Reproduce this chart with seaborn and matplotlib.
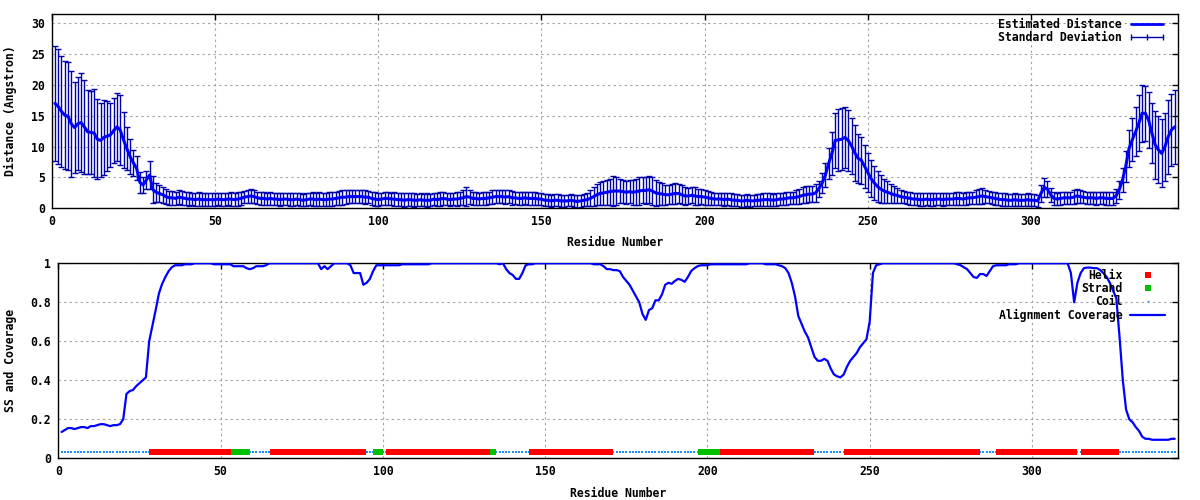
import numpy as np
import pandas as pd
import seaborn as sns
import matplotlib
matplotlib.use('Agg')
import matplotlib.pyplot as plt
from matplotlib.lines import Line2D
from matplotlib.ticker import FuncFormatter

# residue numbering 1..344
residues = list(range(1, 345))

# estimated distance (Angstrom) per residue
distance = [
    17.0, 16.5, 15.7, 15.1, 14.9, 13.7, 13.1, 13.7, 13.9, 13.2,
    12.4, 12.3, 12.2, 11.2, 11.0, 11.5, 11.7, 11.9, 12.6, 13.2,
    12.7, 11.1, 9.7, 8.4, 7.4, 6.5, 4.2, 3.8, 4.6, 5.4,
    3.0, 2.6, 2.4, 2.2, 1.9, 1.7, 1.7, 1.6, 1.8, 1.7,
    1.6, 1.5, 1.5, 1.4, 1.5, 1.4, 1.4, 1.4, 1.4, 1.4,
    1.5, 1.4, 1.4, 1.5, 1.5, 1.4, 1.5, 1.6, 1.8, 1.9,
    2.0, 1.9, 1.7, 1.6, 1.6, 1.5, 1.6, 1.5, 1.5, 1.4,
    1.5, 1.5, 1.4, 1.4, 1.5, 1.4, 1.3, 1.4, 1.5, 1.5,
    1.4, 1.5, 1.4, 1.4, 1.5, 1.5, 1.6, 1.7, 1.8, 1.8,
    1.9, 1.9, 1.9, 1.9, 1.9, 1.8, 1.8, 1.6, 1.5, 1.4,
    1.5, 1.6, 1.6, 1.5, 1.5, 1.4, 1.4, 1.3, 1.4, 1.4,
    1.3, 1.3, 1.4, 1.3, 1.3, 1.3, 1.5, 1.4, 1.5, 1.6,
    1.5, 1.4, 1.5, 1.5, 1.6, 1.7, 1.9, 1.8, 1.6, 1.6,
    1.5, 1.6, 1.6, 1.7, 1.8, 1.9, 1.9, 1.9, 1.8, 1.9,
    1.7, 1.7, 1.6, 1.6, 1.7, 1.6, 1.6, 1.6, 1.5, 1.5,
    1.3, 1.3, 1.2, 1.3, 1.3, 1.2, 1.2, 1.2, 1.3, 1.2,
    1.1, 1.2, 1.3, 1.4, 1.6, 1.9, 2.2, 2.4, 2.5, 2.6,
    2.7, 2.8, 2.8, 2.8, 2.7, 2.6, 2.7, 2.6, 2.7, 2.8,
    2.9, 2.9, 3.0, 2.8, 2.5, 2.4, 2.3, 2.2, 2.2, 2.3,
    2.4, 2.4, 2.2, 2.0, 2.0, 2.1, 2.0, 1.9, 1.9, 1.8,
    1.7, 1.6, 1.5, 1.5, 1.5, 1.4, 1.5, 1.4, 1.3, 1.3,
    1.2, 1.2, 1.3, 1.2, 1.2, 1.3, 1.3, 1.4, 1.4, 1.4,
    1.3, 1.4, 1.5, 1.5, 1.6, 1.7, 1.7, 1.8, 1.9, 2.1,
    2.2, 2.3, 2.3, 2.5, 3.2, 4.1, 5.4, 7.3, 8.9, 11.0,
    11.1, 11.2, 11.5, 11.0, 10.1, 9.0, 8.1, 7.8, 6.8, 5.8,
    4.8, 4.1, 3.5, 3.1, 2.8, 2.6, 2.4, 2.2, 2.1, 1.9,
    1.8, 1.7, 1.6, 1.5, 1.5, 1.4, 1.4, 1.5, 1.4, 1.4,
    1.5, 1.5, 1.4, 1.5, 1.5, 1.5, 1.6, 1.6, 1.5, 1.6,
    1.7, 1.7, 1.8, 1.9, 2.0, 1.9, 1.8, 1.7, 1.6, 1.5,
    1.4, 1.4, 1.3, 1.3, 1.4, 1.3, 1.3, 1.3, 1.4, 1.3,
    1.3, 1.2, 2.4, 3.4, 3.1, 2.2, 1.6, 1.5, 1.6, 1.7,
    1.7, 1.7, 1.8, 2.0, 1.9, 1.8, 1.7, 1.7, 1.7, 1.6,
    1.7, 1.7, 1.6, 1.6, 1.6, 2.0, 3.0, 4.6, 6.8, 9.7,
    11.1, 12.4, 13.8, 15.4, 15.4, 14.3, 12.2, 10.3, 9.5, 8.9,
    10.0, 11.6, 12.7, 13.2,
]

# standard deviation per residue
std_dev = [
    9.3, 9.35, 9.0, 8.8, 8.75, 8.55, 7.35, 7.55, 8.05, 7.65,
    6.8, 6.75, 7.1, 6.5, 6.0, 6.05, 5.7, 5.25, 5.3, 5.55,
    5.7, 4.5, 3.55, 2.9, 2.1, 1.95, 1.75, 1.3, 1.4, 2.3,
    2.2, 1.5, 1.4, 1.3, 1.2, 1.1, 1.1, 1.0, 1.1, 1.1,
    1.0, 1.1, 1.0, 1.0, 1.1, 1.0, 1.0, 1.1, 1.0, 1.0,
    1.0, 1.1, 1.0, 1.0, 1.1, 1.0, 1.1, 1.1, 1.0, 1.1,
    1.1, 1.0, 1.0, 1.1, 1.0, 1.0, 1.1, 1.0, 1.0, 1.1,
    1.0, 1.0, 1.1, 1.0, 1.0, 1.1, 1.0, 1.0, 1.0, 1.1,
    1.0, 1.1, 1.0, 1.0, 1.1, 1.1, 1.1, 1.1, 1.2, 1.1,
    1.1, 1.1, 1.0, 1.1, 1.0, 1.1, 1.0, 1.0, 1.1, 1.0,
    1.0, 1.1, 1.0, 1.0, 1.1, 1.0, 1.0, 1.1, 1.0, 1.0,
    1.1, 1.0, 1.0, 1.0, 1.1, 1.0, 1.0, 1.0, 1.1, 1.0,
    1.0, 1.1, 1.0, 1.1, 1.1, 1.2, 1.6, 1.1, 1.0, 1.1,
    1.0, 1.1, 1.1, 1.0, 1.1, 1.1, 1.1, 1.0, 1.1, 1.0,
    1.1, 1.0, 1.0, 1.1, 1.0, 1.0, 1.1, 1.0, 1.0, 1.0,
    1.0, 1.0, 1.0, 1.0, 1.0, 1.0, 1.0, 0.9, 1.0, 1.0,
    1.0, 1.0, 1.0, 1.1, 1.3, 1.5, 1.7, 1.8, 1.9, 2.0,
    2.1, 2.5, 2.3, 2.0, 1.9, 1.9, 1.9, 2.0, 2.1, 2.2,
    2.1, 2.2, 2.2, 2.3, 2.1, 1.9, 1.8, 1.6, 1.5, 1.6,
    1.7, 1.6, 1.5, 1.4, 1.3, 1.3, 1.4, 1.3, 1.2, 1.2,
    1.1, 1.0, 1.0, 1.0, 1.0, 1.0, 1.0, 1.0, 1.0, 1.0,
    1.0, 1.0, 1.0, 1.0, 0.9, 1.0, 1.0, 1.0, 1.0, 1.0,
    1.0, 1.0, 1.0, 1.0, 1.0, 1.0, 1.0, 1.1, 1.2, 1.3,
    1.4, 1.3, 1.3, 1.4, 1.3, 1.6, 2.0, 2.5, 3.5, 4.5,
    5.0, 5.0, 5.0, 5.0, 4.5, 4.5, 4.0, 3.8, 3.5, 3.2,
    3.0, 2.7, 2.5, 2.3, 2.0, 1.8, 1.6, 1.4, 1.2, 1.1,
    1.0, 1.0, 1.0, 1.0, 1.0, 1.0, 1.0, 1.0, 1.0, 1.0,
    1.0, 1.0, 1.0, 1.0, 1.0, 1.0, 1.0, 1.0, 1.0, 1.0,
    1.0, 1.0, 1.1, 1.2, 1.3, 1.1, 1.0, 1.0, 1.0, 1.0,
    1.0, 1.0, 1.0, 1.0, 1.0, 1.0, 1.0, 1.0, 1.0, 1.0,
    1.0, 1.0, 1.4, 1.5, 1.3, 1.1, 1.0, 1.0, 1.0, 1.0,
    1.0, 1.0, 1.1, 1.1, 1.0, 1.0, 1.0, 1.0, 1.0, 1.0,
    1.0, 1.0, 1.0, 1.0, 1.0, 1.1, 1.5, 2.0, 2.5, 3.0,
    3.5, 4.0, 4.5, 4.6, 4.5, 4.5, 4.8, 5.5, 5.4, 5.5,
    5.5, 6.0, 5.8, 6.0,
]

# alignment coverage per residue
coverage = [
    0.135, 0.145, 0.155, 0.155, 0.15, 0.155, 0.16, 0.16, 0.155, 0.165,
    0.165, 0.17, 0.175, 0.175, 0.17, 0.165, 0.17, 0.17, 0.175, 0.2,
    0.33, 0.345, 0.35, 0.37, 0.385, 0.4, 0.415, 0.6, 0.68, 0.76,
    0.845, 0.895, 0.93, 0.96, 0.98, 0.99, 0.99, 0.99, 0.995, 0.995,
    0.995, 1.0, 1.0, 1.0, 1.0, 1.0, 1.0, 0.995, 0.995, 0.995,
    0.995, 0.995, 0.995, 0.985, 0.985, 0.985, 0.985, 0.975, 0.97, 0.975,
    0.985, 0.985, 0.985, 0.99, 1.0, 1.0, 1.0, 1.0, 1.0, 1.0,
    1.0, 1.0, 1.0, 1.0, 1.0, 1.0, 1.0, 1.0, 1.0, 1.0,
    0.97, 0.985, 0.97, 0.985, 1.0, 1.0, 1.0, 1.0, 1.0, 0.99,
    0.95, 0.95, 0.95, 0.89, 0.9, 0.92, 0.96, 0.99, 0.99, 0.99,
    0.99, 0.99, 0.99, 0.99, 0.99, 0.995, 0.995, 0.995, 0.995, 0.995,
    0.995, 0.995, 0.995, 0.995, 1.0, 1.0, 1.0, 1.0, 1.0, 1.0,
    1.0, 1.0, 1.0, 1.0, 1.0, 1.0, 1.0, 1.0, 1.0, 1.0,
    1.0, 1.0, 1.0, 1.0, 1.0, 0.995, 1.0, 0.97, 0.95, 0.94,
    0.92, 0.92, 0.95, 0.99, 0.995, 0.995, 1.0, 1.0, 1.0, 1.0,
    1.0, 1.0, 1.0, 1.0, 1.0, 1.0, 1.0, 1.0, 1.0, 1.0,
    1.0, 1.0, 1.0, 1.0, 0.995, 0.995, 0.995, 0.985, 0.97, 0.97,
    0.965, 0.965, 0.96, 0.93, 0.91, 0.89, 0.86, 0.83, 0.8, 0.74,
    0.71, 0.76, 0.77, 0.81, 0.81, 0.84, 0.89, 0.9, 0.895, 0.91,
    0.92, 0.915, 0.905, 0.93, 0.96, 0.975, 0.985, 0.99, 0.99, 0.99,
    0.995, 0.995, 0.995, 0.995, 0.995, 0.995, 0.995, 0.995, 0.995, 0.995,
    0.995, 0.995, 1.0, 1.0, 1.0, 1.0, 1.0, 0.995, 0.995, 0.995,
    0.995, 0.99, 0.985, 0.975, 0.95, 0.9, 0.83, 0.73, 0.69, 0.65,
    0.62, 0.57, 0.52, 0.5, 0.5, 0.51, 0.5, 0.46, 0.43, 0.42,
    0.415, 0.43, 0.47, 0.5, 0.52, 0.54, 0.57, 0.59, 0.61, 0.7,
    0.95, 0.99, 0.995, 1.0, 1.0, 1.0, 1.0, 1.0, 1.0, 1.0,
    1.0, 1.0, 1.0, 1.0, 1.0, 1.0, 1.0, 1.0, 1.0, 1.0,
    1.0, 1.0, 1.0, 1.0, 1.0, 1.0, 0.995, 0.99, 0.98, 0.97,
    0.95, 0.93, 0.925, 0.945, 0.945, 0.935, 0.96, 0.985, 0.99, 0.99,
    0.99, 0.99, 0.995, 0.995, 0.995, 1.0, 1.0, 1.0, 1.0, 1.0,
    1.0, 1.0, 1.0, 1.0, 1.0, 1.0, 1.0, 1.0, 1.0, 1.0,
    1.0, 0.95, 0.8, 0.9, 0.95, 0.975, 0.978, 0.978, 0.975, 0.975,
    0.966, 0.95, 0.93, 0.9, 0.86, 0.82, 0.62, 0.4, 0.25, 0.2,
    0.185, 0.16, 0.14, 0.11, 0.1, 0.1, 0.095, 0.095, 0.095, 0.095,
    0.095, 0.095, 0.1, 0.1,
]

# secondary structure segments (first, last residue)
helix_segments = [(29, 53), (66, 94), (102, 133), (146, 170), (204, 232),
                  (243, 254), (256, 283), (290, 304), (306, 313), (316, 326)]
strand_segments = [(54, 58), (98, 99), (134, 134), (198, 203)]
ss_level = 0.03

df = pd.DataFrame({'res': residues, 'dist': distance, 'sd': std_dev, 'cov': coverage})
ss = pd.Series('C', index=residues)
for a, b in helix_segments:
    ss.loc[a:b] = 'H'
for a, b in strand_segments:
    ss.loc[a:b] = 'E'
df['ss'] = ss.values
df['ss_y'] = ss_level

FS = 8.3
sns.set_theme(style='white', rc={'axes.edgecolor': 'black', 'text.color': 'black',
                                 'axes.labelcolor': 'black', 'xtick.color': 'black',
                                 'ytick.color': 'black'})
plt.rcParams['font.family'] = ['DejaVu Sans Mono', 'DejaVu Sans']
plt.rcParams['font.weight'] = 'bold'
plt.rcParams['axes.labelweight'] = 'bold'
plt.rcParams['font.size'] = FS
plt.rcParams['axes.labelsize'] = FS
plt.rcParams['legend.fontsize'] = FS
plt.rcParams['xtick.labelsize'] = FS
plt.rcParams['ytick.labelsize'] = FS

fig = plt.figure(figsize=(12, 5), dpi=100)
ax1 = fig.add_axes([51.7/1200, (500-208.3)/500, (1178-51.7)/1200, (208.3-14)/500])
ax2 = fig.add_axes([58.3/1200, (500-458.3)/500, (1178-58.3)/1200, (458.3-263.3)/500])

# --- top panel: distance with error bars
ax1.errorbar(df['res'], df['dist'], yerr=df['sd'], fmt='none', ecolor='#0000a8',
             elinewidth=1, capsize=2.3, capthick=1, zorder=2)
sns.lineplot(data=df, x='res', y='dist', ax=ax1, color='#0000ff', lw=2.2,
             marker='s', markersize=2, markeredgewidth=0, zorder=3, legend=False)
ax1.set_xlim(0, 345)
ax1.set_ylim(0, 31.5)
ax1.set_yticks(range(0, 31, 5))
ax1.set_ylabel('Distance (Angstron)', fontsize=FS)
ax1.yaxis.set_label_coords(-0.031, 0.5)

h_dist = Line2D([], [], color='#0000ff', lw=2)
h_sd = Line2D([], [], color='#0000a8', lw=1, marker='|', markersize=5, markeredgewidth=1)
ax1.legend([h_dist, h_sd], ['Estimated Distance', 'Standard Deviation'],
           loc='upper right', bbox_to_anchor=(1166/1200, 1 - 18.0/500),
           bbox_transform=fig.transFigure, frameon=False, markerfirst=False,
           numpoints=3, handlelength=3.3, handletextpad=0.55, labelspacing=0.0,
           borderpad=0, borderaxespad=0, fontsize=FS)

# --- bottom panel: SS and coverage
helix = df[df['ss'] == 'H']
strand = df[df['ss'] == 'E']
coil = df[df['ss'] == 'C']
sns.scatterplot(data=coil, x='res', y='ss_y', ax=ax2, color='#1e90ff', marker='s',
                s=1.3, linewidth=0, zorder=2, legend=False)
sns.scatterplot(data=helix, x='res', y='ss_y', ax=ax2, color='#ff0000', marker='s',
                s=21, linewidth=0, zorder=3, legend=False)
sns.scatterplot(data=strand, x='res', y='ss_y', ax=ax2, color='#00c000', marker='s',
                s=24, linewidth=0, zorder=4, legend=False)
sns.lineplot(data=df, x='res', y='cov', ax=ax2, color='#0000ff', lw=1.6,
             zorder=5, legend=False)
ax2.set_xlim(0, 345)
ax2.set_ylim(0, 1)
ax2.set_yticks([0, 0.2, 0.4, 0.6, 0.8, 1.0])
ax2.yaxis.set_major_formatter(FuncFormatter(lambda v, p: '%g' % round(v, 2)))
ax2.set_ylabel('SS and Coverage', fontsize=FS)
ax2.yaxis.set_label_coords(-0.037, 0.5)

h_helix = Line2D([], [], ls='none', marker='s', color='#ff0000', markersize=4.3, markeredgewidth=0)
h_strand = Line2D([], [], ls='none', marker='s', color='#00c000', markersize=4.8, markeredgewidth=0)
h_coil = Line2D([], [], ls='none', marker='s', color='#1e90ff', markersize=1.2, markeredgewidth=0)
h_cov = Line2D([], [], color='#0000ff', lw=1.6)
ax2.legend([h_helix, h_strand, h_coil, h_cov],
           ['Helix', 'Strand', 'Coil', 'Alignment Coverage'],
           loc='upper right', bbox_to_anchor=(1165/1200, 1 - 268.7/500),
           bbox_transform=fig.transFigure, frameon=False, markerfirst=False,
           numpoints=1, handlelength=3.0, handletextpad=0.7, labelspacing=0.03,
           borderpad=0, borderaxespad=0, fontsize=FS)

for ax in (ax1, ax2):
    ax.set_xticks(range(0, 301, 50))
    ax.set_xlabel('Residue Number', fontsize=FS)
    ax.xaxis.set_label_coords(0.5, -0.145)
    ax.grid(True, color='#a0a0a0', linestyle=(0, (2, 3)), linewidth=0.8)
    ax.set_axisbelow(True)
    ax.tick_params(direction='in', length=4, width=1, top=True, right=True,
                   labelsize=FS, pad=5)
    for sp in ax.spines.values():
        sp.set_color('black')
        sp.set_linewidth(1)

fig.savefig('out.png', dpi=100)
